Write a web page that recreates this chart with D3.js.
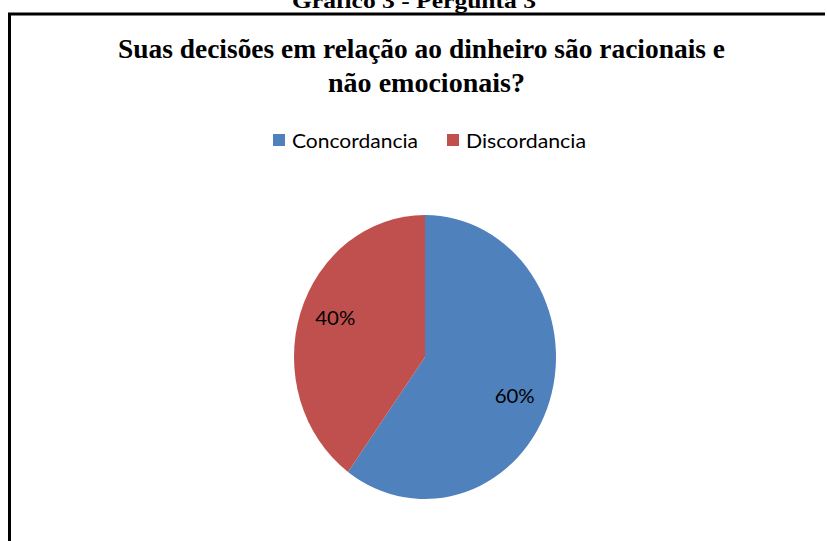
<!DOCTYPE html>
<html>
<head>
<meta charset="utf-8">
<script src="https://cdn.jsdelivr.net/npm/d3@7"></script>
<style>
    body { margin: 0; background: #fff; }
    svg { display: block; }
    .serif { font-family: "Liberation Serif", "DejaVu Serif", serif; font-weight: bold; fill: #000; }
    .sans { font-family: Lato, "Open Sans", sans-serif; fill: #000; }
</style>
</head>
<body>
<svg id="chart" width="827" height="541"></svg>
<script>
// data
const categories = ["Concordancia", "Discordancia"];
const values = [60, 40];
const colors = ["#4F81BD", "#C0504D"];
const header = "Gráfico 3 -  Pergunta 3";
const titleLines = ["Suas decisões em relação ao  dinheiro são racionais e", "não emocionais?"];

const svg = d3.select("#chart");
const width = +svg.attr("width");

// header of the page, cut off at the top like in the scan
svg.append("text")
    .attr("class", "serif")
    .attr("x", 414)
    .attr("y", 8)
    .attr("text-anchor", "middle")
    .attr("font-size", 22)
    .attr("textLength", 244)
    .attr("lengthAdjust", "spacingAndGlyphs")
    .text(header);

// frame of the chart area (right and bottom run past the picture)
svg.append("path")
    .attr("d", `M${width - 2},14 H9.5 V${541}`)
    .attr("fill", "none")
    .attr("stroke", "#000")
    .attr("stroke-width", 3);

// title
let titleWidths = [607, 197];
svg.append("g")
    .selectAll("text")
    .data(titleLines)
    .enter()
    .append("text")
        .attr("class", "serif")
        .attr("x", (d, i) => i === 0 ? 421.5 : 426.5)
        .attr("y", (d, i) => 58 + i * 34)
        .attr("text-anchor", "middle")
        .attr("font-size", 27)
        .attr("textLength", (d, i) => titleWidths[i])
        .attr("lengthAdjust", "spacingAndGlyphs")
        .text(d => d);

// legend
let legendX = [273, 447],
    legendW = [126, 120];
let legend = svg.append("g")
    .selectAll("g")
    .data(categories)
    .enter()
    .append("g")
        .attr("transform", (d, i) => `translate(${legendX[i]},134)`);

legend.append("rect")
    .attr("width", 12)
    .attr("height", 12)
    .attr("fill", (d, i) => colors[i]);

legend.append("text")
    .attr("class", "sans")
    .attr("x", 19)
    .attr("y", 13.5)
    .attr("font-size", 19)
    .attr("textLength", (d, i) => legendW[i])
    .attr("lengthAdjust", "spacingAndGlyphs")
    .text(d => d);

// pie (the original is slightly stretched vertically)
let cx = 425,
    cy = 357,
    r = 131,
    sy = 142 / 131;

let pie = d3.pie().sort(null).value(d => d)(values);
let arc = d3.arc().innerRadius(0).outerRadius(r);
let labelArc = d3.arc().innerRadius(r * 0.72).outerRadius(r * 0.72);

svg.append("g")
    .attr("transform", `translate(${cx},${cy}) scale(1,${sy})`)
    .selectAll("path")
    .data(pie)
    .enter()
    .append("path")
        .attr("d", arc)
        .attr("fill", (d, i) => colors[i]);

// labels sit a bit further from the horizontal axis than the centroid (best fit)
let total = d3.sum(values);
svg.append("g")
    .selectAll("text")
    .data(pie)
    .enter()
    .append("text")
        .attr("class", "sans")
        .attr("x", d => cx + labelArc.centroid(d)[0])
        .attr("y", d => cy + labelArc.centroid(d)[1] * sy * 1.25)
        .attr("dy", "0.35em")
        .attr("text-anchor", "middle")
        .attr("font-size", 20)
        .attr("textLength", 40)
        .attr("lengthAdjust", "spacingAndGlyphs")
        .text(d => Math.round(d.data / total * 100) + "%");
</script>
</body>
</html>
